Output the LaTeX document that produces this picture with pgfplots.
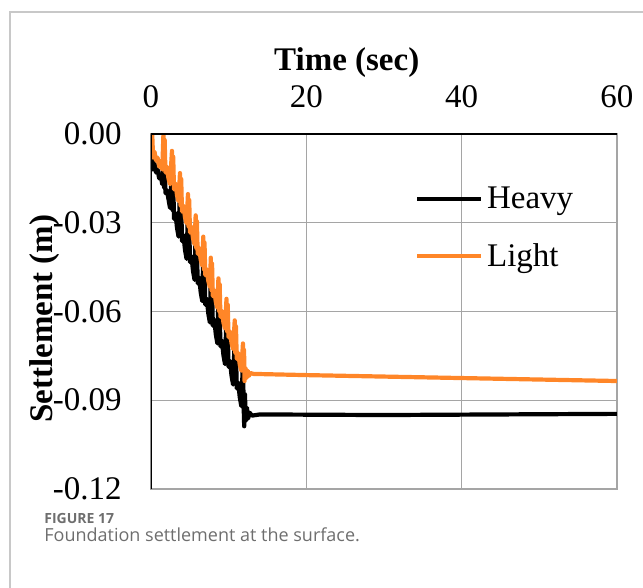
\documentclass[border=0pt]{standalone}
\usepackage{fontspec}
\setmainfont{Liberation Serif}
\newfontfamily\capfont{Open Sans}
\usepackage{pgfplots}
\pgfplotsset{compat=1.18}
\definecolor{lightor}{RGB}{255,134,40}
\definecolor{gridgray}{RGB}{165,165,165}
\definecolor{framegray}{RGB}{200,200,200}
\definecolor{capgray}{RGB}{110,110,110}

\pgfplotstableread{
t      s
0      0
0.08  -0.008
0.16  -0.004
0.26  -0.012
0.45  -0.010
0.65  -0.013
0.85  -0.012
1.05  -0.015
1.25  -0.014
1.45  -0.017
1.60  -0.006
1.68  -0.018
1.76  -0.010
1.86  -0.020
2.05  -0.019
2.25  -0.022
2.45  -0.025
2.70  -0.0117
2.78  -0.0257
2.86  -0.0157
2.96  -0.0287
3.15  -0.0267
3.35  -0.0317
3.55  -0.0347
3.73  -0.0192
3.81  -0.0332
3.89  -0.0232
3.99  -0.0362
4.18  -0.0342
4.38  -0.0392
4.58  -0.0422
4.76  -0.0263
4.84  -0.0403
4.92  -0.0303
5.02  -0.0433
5.21  -0.0413
5.41  -0.0463
5.61  -0.0493
5.75  -0.0335
5.83  -0.0475
5.91  -0.0375
6.01  -0.0505
6.20  -0.0485
6.40  -0.0535
6.60  -0.0565
6.73  -0.0407
6.81  -0.0547
6.89  -0.0447
6.99  -0.0577
7.18  -0.0557
7.38  -0.0607
7.58  -0.0637
7.70  -0.0478
7.78  -0.0618
7.86  -0.0518
7.96  -0.0648
8.15  -0.0628
8.35  -0.0678
8.55  -0.0708
8.68  -0.0548
8.76  -0.0688
8.84  -0.0588
8.94  -0.0718
9.13  -0.0698
9.33  -0.0748
9.53  -0.0778
9.72  -0.0617
9.80  -0.0757
9.88  -0.0657
9.98  -0.0787
10.17 -0.0767
10.37 -0.0817
10.57 -0.0847
10.78 -0.0690
10.86 -0.0830
10.94 -0.0730
11.04 -0.0860
11.23 -0.0840
11.43 -0.0890
11.63 -0.0920
11.84 -0.0768
11.93 -0.0920
12.00 -0.0988
12.10 -0.0880
12.20 -0.0970
12.35 -0.0925
12.50 -0.0962
12.70 -0.0942
13.00 -0.0952
14.00 -0.0948
30.00 -0.0950
60.00 -0.0946
}\heavy

\pgfplotstableread{
t      s
0      0
0.08  -0.005
0.16   0
0.26  -0.008
0.45  -0.006
0.65  -0.009
0.85  -0.008
1.05  -0.011
1.25  -0.010
1.45  -0.012
1.60   0
1.68  -0.011
1.76  -0.002
1.86  -0.013
2.05  -0.011
2.25  -0.015
2.45  -0.017
2.70  -0.0057
2.78  -0.0167
2.86  -0.0077
2.96  -0.0187
3.15  -0.0167
3.35  -0.0207
3.55  -0.0227
3.73  -0.0132
3.81  -0.0242
3.89  -0.0152
3.99  -0.0262
4.18  -0.0242
4.38  -0.0282
4.58  -0.0302
4.76  -0.0203
4.84  -0.0313
4.92  -0.0223
5.02  -0.0333
5.21  -0.0313
5.41  -0.0353
5.61  -0.0373
5.75  -0.0275
5.83  -0.0385
5.91  -0.0295
6.01  -0.0405
6.20  -0.0385
6.40  -0.0425
6.60  -0.0445
6.73  -0.0347
6.81  -0.0457
6.89  -0.0367
6.99  -0.0477
7.18  -0.0457
7.38  -0.0497
7.58  -0.0517
7.70  -0.0418
7.78  -0.0528
7.86  -0.0438
7.96  -0.0548
8.15  -0.0528
8.35  -0.0568
8.55  -0.0588
8.68  -0.0488
8.76  -0.0598
8.84  -0.0508
8.94  -0.0618
9.13  -0.0598
9.33  -0.0638
9.53  -0.0658
9.72  -0.0557
9.80  -0.0667
9.88  -0.0577
9.98  -0.0687
10.17 -0.0667
10.37 -0.0707
10.57 -0.0727
10.78 -0.0630
10.86 -0.0740
10.94 -0.0650
11.04 -0.0760
11.23 -0.0740
11.43 -0.0780
11.63 -0.0800
11.84 -0.0708
11.92 -0.0800
11.98 -0.0730
12.05 -0.0835
12.15 -0.0790
12.30 -0.0825
12.45 -0.0800
12.60 -0.0818
12.80 -0.0808
13.20 -0.0811
20.00 -0.0815
30.00 -0.0820
40.00 -0.0825
50.00 -0.0830
60.00 -0.0835
}\light

\begin{document}
\begin{tikzpicture}
\path[use as bounding box] (0,0) rectangle (321.5pt,294pt);
\draw[framegray, line width=0.7pt] (5pt,0) -- (5pt,288pt) -- (321.5pt,288pt);

\begin{axis}[
    at={(75.5pt,49.5pt)}, anchor=south west,
    scale only axis,
    width=233pt, height=177.5pt,
    xmin=0, xmax=60,
    ymin=-0.12, ymax=0,
    xtick={0,20,40,60},
    ytick={-0.12,-0.09,-0.06,-0.03,0},
    yticklabels={-0.12,-0.09,-0.06,-0.03,0.00},
    xticklabel pos=upper,
    major tick length=0pt,
    grid=major,
    grid style={gridgray, line width=0.6pt},
    axis line style={gridgray, line width=0.6pt},
    /pgf/number format/assume math mode=true,
    tick label style={font=\fontsize{16.5}{18}\selectfont},
    xticklabel style={anchor=base, inner sep=0pt, yshift=13pt},
    yticklabel style={anchor=east, inner sep=0pt, xshift=-14.5pt},
    xlabel={Time (sec)},
    ylabel={Settlement (m)},
    label style={font=\fontsize{16.5}{18}\selectfont\bfseries},
    xlabel style={at={(axis description cs:0.42,1.18)}, anchor=base},
    ylabel style={at={(axis description cs:-0.2275,0.48)}, anchor=center},
    legend style={draw=none, fill=none, at={(axis description cs:0.553,0.875)},
        anchor=north west, font=\fontsize{16.5}{18}\selectfont, row sep=12pt},
    legend cell align=left,
    legend image code/.code={\draw[#1, line width=2pt] (0pt,0pt) -- (32pt,0pt);},
]
\addplot[black, line width=2.1pt, line join=round] table[x=t, y=s] {\heavy};
\addlegendentry{Heavy}
\addplot[lightor, line width=2.1pt, line join=round] table[x=t, y=s] {\light};
\addlegendentry{Light}
\draw[black, line width=1.1pt] (rel axis cs:0,1) -- (rel axis cs:1,1);
\draw[black, line width=1.1pt] (rel axis cs:0,0) -- (rel axis cs:0,1);
\end{axis}

\node[anchor=base west, inner sep=0pt, text=capgray, font=\capfont\bfseries\fontsize{7}{9}\selectfont] at (22pt,32pt) {FIGURE 17};
\node[anchor=base west, inner sep=0pt, text=capgray, font=\capfont\fontsize{9}{11}\selectfont] at (22pt,23pt) {Foundation settlement at the surface.};
\end{tikzpicture}
\end{document}
